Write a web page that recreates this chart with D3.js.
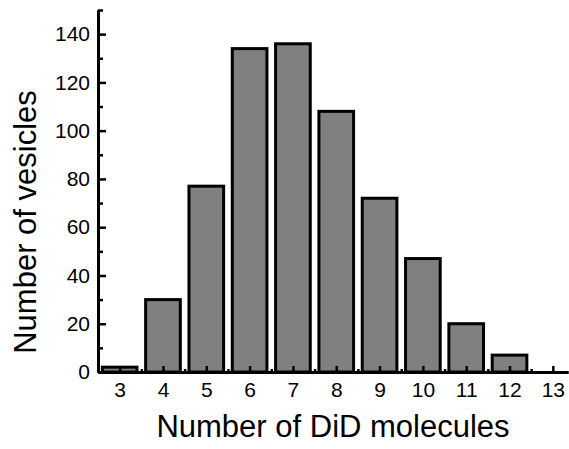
<!DOCTYPE html>
<html>
<head>
<meta charset="utf-8">
<script src="https://cdn.jsdelivr.net/npm/d3@7"></script>
<style>
  body { margin: 0; background: #fff; }
  text { font-family: "Liberation Sans", Arial, sans-serif; fill: #000; }
</style>
</head>
<body>
<div id="chart"></div>
<script>
// Data
// =================================
const molecules = [3, 4, 5, 6, 7, 8, 9, 10, 11, 12, 13];
const vesicles = [2, 30, 77, 134, 136, 108, 72, 47, 20, 7, 0];
const yTicks = [0, 20, 40, 60, 80, 100, 120, 140];

const svgWidth = 569;
const svgHeight = 449;

const svg = d3.select("#chart")
  .append("svg")
  .attr("width", svgWidth)
  .attr("height", svgHeight);

// Scales
// =================================
const x = d3.scaleLinear()
  .domain([2.5, 13.35])
  .range([98, 568]);

const y = d3.scaleLinear()
  .domain([0, 150])
  .range([372, 10]);

const barWidth = (x(4) - x(3)) * 0.8;

// Bars
// =================================
svg.append("g")
  .selectAll("rect")
  .data(molecules.map((m, i) => ({ m: m, v: vesicles[i] })).filter(d => d.v > 0))
  .enter()
  .append("rect")
  .attr("x", d => x(d.m) - barWidth / 2)
  .attr("y", d => y(d.v))
  .attr("width", barWidth)
  .attr("height", d => y(0) - y(d.v))
  .attr("fill", "#808080")
  .attr("stroke", "#000")
  .attr("stroke-width", 3);

// Axes
// =================================
const xMajor = d3.axisBottom(x)
  .tickValues(molecules)
  .tickSizeInner(-6)
  .tickSizeOuter(0)
  .tickPadding(10)
  .tickFormat(d3.format("d"));

const xMinor = d3.axisBottom(x)
  .tickValues(molecules.slice(0, -1).map(m => m + 0.5))
  .tickSizeInner(-3)
  .tickSizeOuter(0)
  .tickFormat("");

const yMajor = d3.axisLeft(y)
  .tickValues(yTicks)
  .tickSizeInner(-8)
  .tickSizeOuter(0)
  .tickPadding(8);

const yMinor = d3.axisLeft(y)
  .tickValues(yTicks.map(t => t + 10))
  .tickSizeInner(-5)
  .tickSizeOuter(0)
  .tickFormat("");

function styleAxis(g) {
  g.select(".domain").attr("stroke", "#000").attr("stroke-width", 3);
  g.selectAll(".tick line").attr("stroke", "#000").attr("stroke-width", 2.5);
  g.selectAll(".tick text").attr("font-size", 21).attr("font-family", "Liberation Sans, Arial, sans-serif");
}

svg.append("g").attr("transform", `translate(0, ${y(0)})`).call(xMinor).call(styleAxis);
svg.append("g").attr("transform", `translate(0, ${y(0)})`).call(xMajor).call(styleAxis);
svg.append("g").attr("transform", `translate(${x(2.5)}, 0)`).call(yMinor).call(styleAxis);
svg.append("g").attr("transform", `translate(${x(2.5)}, 0)`).call(yMajor).call(styleAxis);

// Axis labels
// =================================
svg.append("text")
  .attr("transform", "translate(36, 222) rotate(-90)")
  .attr("text-anchor", "middle")
  .attr("font-size", 31)
  .text("Number of vesicles");

svg.append("text")
  .attr("x", 333)
  .attr("y", 437)
  .attr("text-anchor", "middle")
  .attr("font-size", 31)
  .text("Number of DiD molecules");
</script>
</body>
</html>
